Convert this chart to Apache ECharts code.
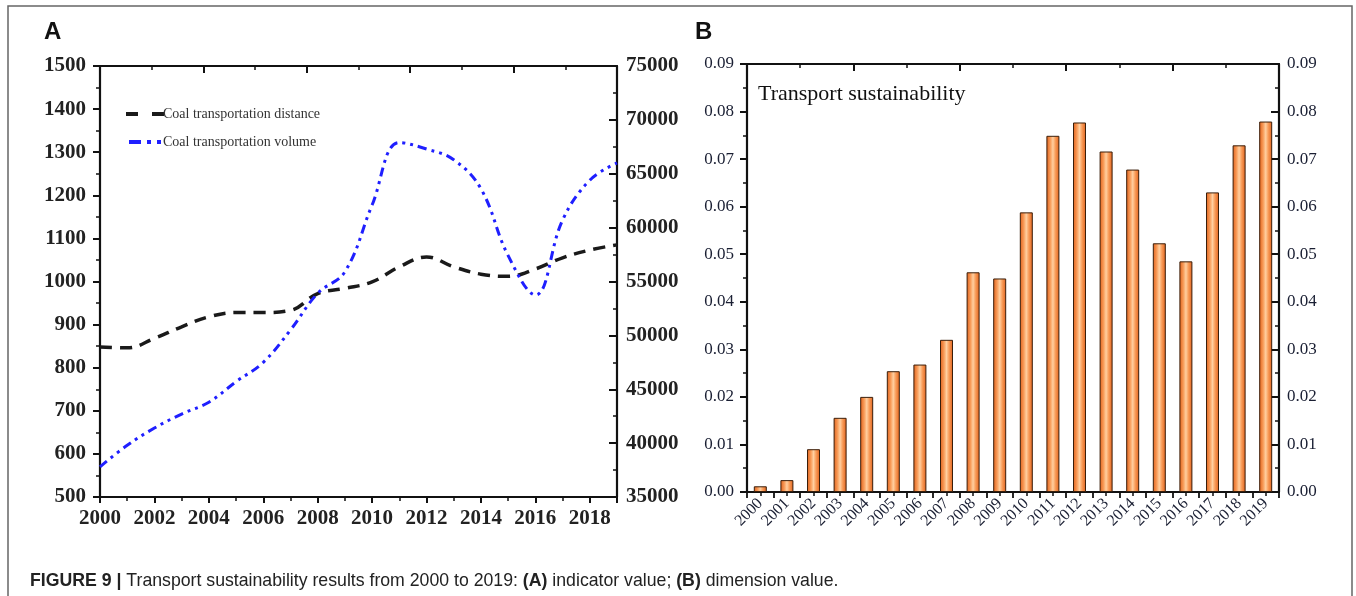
<!DOCTYPE html>
<html>
<head>
<meta charset="utf-8">
<script src="https://cdn.jsdelivr.net/npm/echarts@6/dist/echarts.min.js"></script>
<style>
  html, body { margin: 0; padding: 0; background: #fff; }
  #chart { width: 1356px; height: 596px; }
</style>
</head>
<body>
<div id="chart"></div>
<script>
// Years covered by both panels
const years = [2000, 2001, 2002, 2003, 2004, 2005, 2006, 2007, 2008, 2009,
               2010, 2011, 2012, 2013, 2014, 2015, 2016, 2017, 2018, 2019];

// Panel A: indicator values
const coalDistance = [848, 846, 868, 895, 918, 928, 928, 933, 972, 984,
                      999, 1034, 1057, 1034, 1017, 1012, 1029, 1055, 1073, 1085];
const coalVolume = [37800, 39800, 41400, 42700, 43800, 45700, 47500, 50500, 53900, 55900,
                    62100, 67900, 67300, 66300, 63600, 57400, 53750, 60700, 64400, 66000];

// Panel B: dimension value
const sustainability = [0.0012, 0.0025, 0.0090, 0.0156, 0.0200, 0.0254, 0.0268, 0.0320, 0.0462, 0.0449,
                        0.0588, 0.0749, 0.0777, 0.0716, 0.0678, 0.0523, 0.0485, 0.0630, 0.0729, 0.0779];

const serif = '"Liberation Serif", "Times New Roman", serif';
const sans = '"Liberation Sans", Arial, sans-serif';
const ink = '#111';

const chart = echarts.init(document.getElementById('chart'), null, { renderer: 'canvas' });

function frameAxis(extra) {
  return Object.assign({
    axisLine: { show: true, onZero: false, lineStyle: { color: ink, width: 2.2 } },
    splitLine: { show: false }
  }, extra);
}

const boldLabel = { fontFamily: serif, fontWeight: 'bold', fontSize: 21, color: '#222' };
const plainLabel = { fontFamily: serif, fontSize: 17, color: '#1a1f33' };

// Legend glyphs that repeat each line's dash pattern
const dashIcon = 'path://M0,0H12V4H0Z M26,0H38V4H26Z';
const dashDotIcon = 'path://M0,0H12V4H0Z M18,0H22V4H18Z M28,0H32V4H28Z';

const option = {
  animation: false,
  backgroundColor: '#fff',
  title: {
    left: 25,
    top: 567,
    text: '{b|FIGURE 9 |} Transport sustainability results from 2000 to 2019: {b|(A)} indicator value; {b|(B)} dimension value.',
    textStyle: {
      fontFamily: sans, fontSize: 17.7, fontWeight: 'normal', color: '#222',
      rich: { b: { fontFamily: sans, fontSize: 17.7, fontWeight: 'bold', color: '#222' } }
    }
  },
  legend: {
    left: 121, top: 102, orient: 'vertical', itemGap: 14,
    itemWidth: 38, itemHeight: 4,
    data: [
      { name: 'Coal transportation distance', icon: dashIcon },
      { name: 'Coal transportation volume', icon: dashDotIcon }
    ],
    textStyle: { fontFamily: serif, fontSize: 14, color: '#333', padding: [0, 0, 0, -6] }
  },
  grid: [
    { left: 100, top: 66, width: 517, height: 431, containLabel: false },
    { left: 747, top: 64, width: 532, height: 428, containLabel: false }
  ],
  xAxis: [
    // Panel A, bottom: years
    frameAxis({
      type: 'value', gridIndex: 0, position: 'bottom', min: 2000, max: 2019, interval: 2,
      axisTick: { show: true, inside: false, length: 6, lineStyle: { color: ink, width: 2 } },
      minorTick: { show: true, splitNumber: 2, length: 4, lineStyle: { color: ink, width: 1.5 } },
      axisLabel: Object.assign({ margin: 11, showMaxLabel: false, formatter: v => String(v) }, boldLabel)
    }),
    // Panel A, top frame
    frameAxis({
      type: 'value', gridIndex: 0, position: 'top', min: 0, max: 10, interval: 2,
      axisTick: { show: true, inside: true, length: 7, lineStyle: { color: ink, width: 2 } },
      minorTick: { show: true, splitNumber: 2, length: 4, lineStyle: { color: ink, width: 1.5 } },
      axisLabel: { show: false }
    }),
    // Panel B, bottom: year categories (labels only)
    {
      type: 'category', gridIndex: 1, position: 'bottom', data: years, boundaryGap: true,
      axisLine: { show: false }, axisTick: { show: false }, splitLine: { show: false },
      axisLabel: { rotate: 45, margin: 9, interval: 0, fontFamily: serif, fontSize: 16, color: '#1a1f33' }
    },
    // Panel B, bottom: tick marks at category edges and centres
    frameAxis({
      type: 'value', gridIndex: 1, position: 'bottom', min: 0, max: 20, interval: 1,
      axisTick: { show: true, inside: false, length: 6, lineStyle: { color: ink, width: 1.8 } },
      minorTick: { show: true, splitNumber: 2, length: 4, lineStyle: { color: ink, width: 1.5 } },
      axisLabel: { show: false }
    }),
    // Panel B, top frame
    frameAxis({
      type: 'value', gridIndex: 1, position: 'top', min: 0, max: 10, interval: 2,
      axisTick: { show: true, inside: true, length: 7, lineStyle: { color: ink, width: 2 } },
      minorTick: { show: true, splitNumber: 2, length: 4, lineStyle: { color: ink, width: 1.5 } },
      axisLabel: { show: false }
    })
  ],
  yAxis: [
    frameAxis({
      type: 'value', gridIndex: 0, position: 'left', min: 500, max: 1500, interval: 100,
      axisTick: { show: true, inside: false, length: 7, lineStyle: { color: ink, width: 2 } },
      minorTick: { show: true, splitNumber: 2, length: 4, lineStyle: { color: ink, width: 1.5 } },
      axisLabel: Object.assign({ margin: 14, formatter: v => String(v) }, boldLabel)
    }),
    frameAxis({
      type: 'value', gridIndex: 0, position: 'right', min: 35000, max: 75000, interval: 5000,
      axisTick: { show: true, inside: true, length: 8, lineStyle: { color: ink, width: 2 } },
      minorTick: { show: true, splitNumber: 2, length: 4, lineStyle: { color: ink, width: 1.5 } },
      axisLabel: Object.assign({ margin: 9, formatter: v => String(v) }, boldLabel)
    }),
    frameAxis({
      type: 'value', gridIndex: 1, position: 'left', min: 0, max: 0.09, interval: 0.01,
      axisTick: { show: true, inside: false, length: 7, lineStyle: { color: ink, width: 2 } },
      minorTick: { show: true, splitNumber: 2, length: 4, lineStyle: { color: ink, width: 1.5 } },
      axisLabel: Object.assign({ margin: 13, formatter: v => v.toFixed(2) }, plainLabel)
    }),
    frameAxis({
      type: 'value', gridIndex: 1, position: 'right', min: 0, max: 0.09, interval: 0.01,
      axisTick: { show: true, inside: true, length: 8, lineStyle: { color: ink, width: 2 } },
      minorTick: { show: true, splitNumber: 2, length: 4, lineStyle: { color: ink, width: 1.5 } },
      axisLabel: Object.assign({ margin: 8, formatter: v => v.toFixed(2) }, plainLabel)
    })
  ],
  series: [
    {
      name: 'Coal transportation distance', type: 'line', xAxisIndex: 0, yAxisIndex: 0,
      data: years.map((y, i) => [y, coalDistance[i]]),
      smooth: 0.4, symbol: 'none',
      itemStyle: { color: '#1a1a1a' },
      lineStyle: { color: '#1a1a1a', width: 3.5, type: [12, 8] },
      z: 3
    },
    {
      name: 'Coal transportation volume', type: 'line', xAxisIndex: 0, yAxisIndex: 1,
      data: years.map((y, i) => [y, coalVolume[i]]),
      smooth: 0.4, symbol: 'none',
      itemStyle: { color: '#1f1fff' },
      lineStyle: { color: '#1f1fff', width: 3, type: [9, 5, 3, 5, 3, 5] },
      z: 4
    },
    {
      name: 'Transport sustainability', type: 'bar', xAxisIndex: 2, yAxisIndex: 2,
      data: sustainability, barWidth: 13,
      itemStyle: {
        borderColor: '#3a1e0a', borderWidth: 1,
        color: new echarts.graphic.LinearGradient(0, 0, 1, 0, [
          { offset: 0, color: '#e0601a' },
          { offset: 0.3, color: '#f89b58' },
          { offset: 0.5, color: '#ffcfa0' },
          { offset: 0.7, color: '#f89b58' },
          { offset: 1, color: '#e0601a' }
        ])
      }
    }
  ],
  graphic: [
    {
      type: 'polyline', silent: true,
      shape: { points: [[8, 596], [8, 6], [1352, 6], [1352, 596]] },
      style: { stroke: '#666', lineWidth: 1.5, fill: null }
    },
    { type: 'text', left: 44, top: 20, style: { text: 'A', font: 'bold 24px ' + sans, fill: '#111' } },
    { type: 'text', left: 695, top: 20, style: { text: 'B', font: 'bold 24px ' + sans, fill: '#111' } },
    { type: 'text', left: 758, top: 83, style: { text: 'Transport sustainability', font: '22px ' + serif, fill: '#111' } }
  ]
};

chart.setOption(option);
</script>
</body>
</html>
